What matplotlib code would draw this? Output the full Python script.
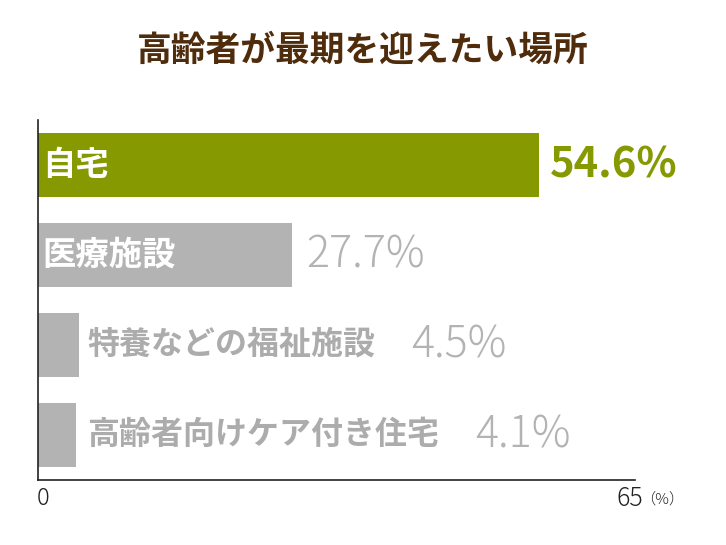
import matplotlib
matplotlib.use('Agg')
import matplotlib.pyplot as plt

plt.rcParams['font.family'] = ['Noto Sans CJK JP', 'DejaVu Sans']

title = '高齢者が最期を迎えたい場所'
places = ['自宅', '医療施設', '特養などの福祉施設', '高齢者向けケア付き住宅']
shares = [54.6, 27.7, 4.5, 4.1]
x_max = 65

green = '#879900'
gray = '#b3b3b3'
label_gray = '#acacac'

fig = plt.figure(figsize=(7.26, 5.45), dpi=100)
ax = fig.add_axes([38 / 726, 65 / 545, 597 / 726, 360 / 545])

ypos = list(range(len(places)))
colors = [green] + [gray] * (len(places) - 1)
ax.barh(ypos, shares, height=0.71, color=colors, edgecolor='none')

ax.set_xlim(0, x_max)
ax.set_ylim(len(places) - 0.5, -0.5)
for s in ['top', 'right']:
    ax.spines[s].set_visible(False)
for s in ['left', 'bottom']:
    ax.spines[s].set_color('#222222')
    ax.spines[s].set_linewidth(1.2)
ax.set_yticks([])
ax.set_xticks([])

# axis end labels
ax.annotate('0', xy=(0, 0), xycoords=('data', 'axes fraction'), xytext=(-1, -4),
            textcoords='offset points', ha='left', va='top', fontsize=17,
            weight='light', color='#222222')
ax.annotate('65', xy=(x_max, 0), xycoords=('data', 'axes fraction'), xytext=(6, -4),
            textcoords='offset points', ha='right', va='top', fontsize=18,
            weight='light', color='#222222')
ax.annotate('（%）', xy=(x_max, 0), xycoords=('data', 'axes fraction'), xytext=(4, -9),
            textcoords='offset points', ha='left', va='top', fontsize=11,
            weight='light', color='#222222')

fig.canvas.draw()
renderer = fig.canvas.get_renderer()

small_x = max(v for v in shares if v <= 20)
for i, (name, v) in enumerate(zip(places, shares)):
    val = f'{v}%'
    if v > 20:
        ax.annotate(name, xy=(0, i), xytext=(4, 0), textcoords='offset pixels',
                    ha='left', va='center', fontsize=24, weight='bold', color='white')
        if i == 0:
            ax.annotate(val, xy=(v, i), xytext=(10, 0), textcoords='offset pixels',
                        ha='left', va='center', fontsize=30, weight='bold', color=green)
        else:
            ax.annotate(val, xy=(v, i), xytext=(14, 0), textcoords='offset pixels',
                        ha='left', va='center', fontsize=31, weight='light', color=gray)
    else:
        t = ax.annotate(name, xy=(small_x, i), xytext=(8, 0), textcoords='offset pixels',
                        ha='left', va='center', fontsize=23, weight='bold', color=label_gray)
        bb = t.get_window_extent(renderer)
        x_px = bb.x1 - ax.transData.transform((small_x, i))[0] + 36
        ax.annotate(val, xy=(small_x, i), xytext=(x_px, 0), textcoords='offset pixels',
                    ha='left', va='center', fontsize=31, weight='light', color=gray)

fig.text(0.5, 1 - 50 / 545, title, ha='center', va='center', fontsize=25,
         weight='bold', color='#4f2c0c')

fig.savefig('out.png', dpi=100)
